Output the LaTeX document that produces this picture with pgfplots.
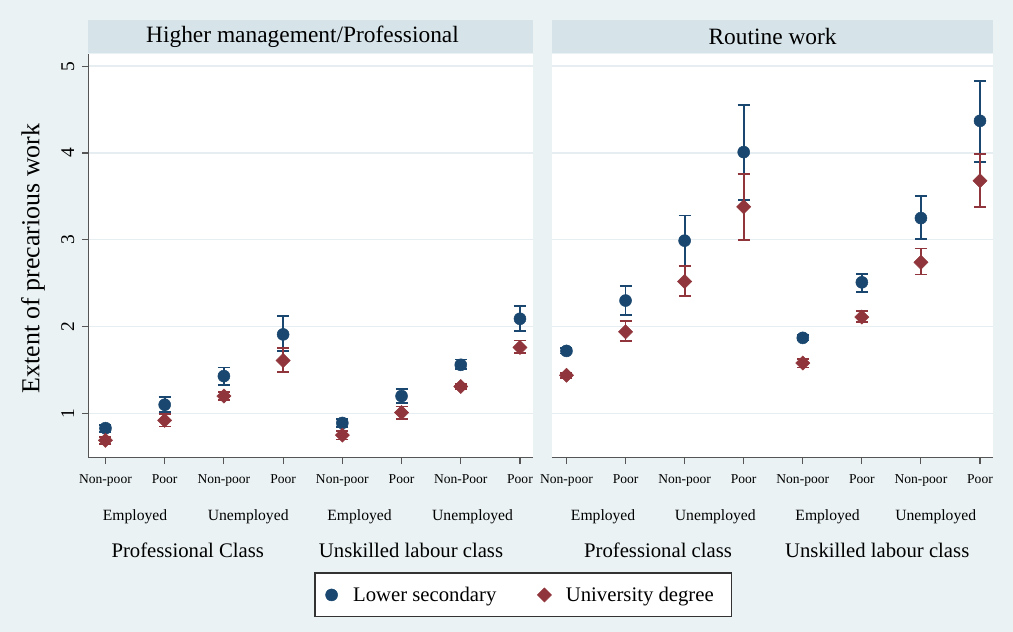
\documentclass[border=0pt]{standalone}
\usepackage{pgfplots}
\usepackage{pgfplotstable}
\pgfplotsset{compat=1.18}
\usepackage{fontspec}
\setmainfont{Liberation Serif}
\definecolor{bg}{HTML}{EAF2F3}
\definecolor{hdr}{HTML}{D6E4EA}
\definecolor{sblue}{HTML}{1A476F}
\definecolor{sred}{HTML}{90353B}
\definecolor{grd}{HTML}{E6EEF1}
\definecolor{axc}{HTML}{555555}

\pgfplotstableread{
x y ep em
0 0.83 0.04 0.04
1 1.10 0.09 0.08
2 1.43 0.10 0.10
3 1.91 0.21 0.19
4 0.89 0.05 0.05
5 1.20 0.08 0.08
6 1.56 0.06 0.05
7 2.09 0.15 0.14
}\LBlue
\pgfplotstableread{
x y ep em
0 0.69 0.04 0.04
1 0.92 0.07 0.07
2 1.20 0.05 0.05
3 1.61 0.14 0.13
4 0.75 0.05 0.05
5 1.01 0.07 0.07
6 1.31 0.03 0.03
7 1.76 0.08 0.06
}\LRed
\pgfplotstableread{
x y ep em
0 1.72 0.03 0.03
1 2.30 0.17 0.17
2 2.99 0.29 0.29
3 4.01 0.54 0.55
4 1.87 0.03 0.03
5 2.51 0.10 0.11
6 3.25 0.25 0.24
7 4.37 0.46 0.47
}\RBlue
\pgfplotstableread{
x y ep em
0 1.44 0.03 0.03
1 1.94 0.12 0.11
2 2.52 0.18 0.17
3 3.38 0.38 0.38
4 1.58 0.05 0.05
5 2.11 0.07 0.06
6 2.74 0.16 0.14
7 3.68 0.31 0.30
}\RRed

\tikzset{
  mid/.style={font=\fontsize{15.7}{17}\selectfont, anchor=center},
  big/.style={font=\fontsize{20.8}{23}\selectfont, anchor=center},
}
\pgfplotsset{
  panel/.style={
    scale only axis, height=403.7bp,
    ymin=0.49, ymax=5.14, ytick={1,2,3,4,5},
    xtick={0,...,7},
    axis background/.style={fill=white},
    ymajorgrids, grid style={grd, line width=1.3bp},
    axis x line*=bottom, axis y line*=left,
    axis line style={axc, line width=1.2bp, -},
    tick align=outside, major tick length=6.5bp,
    tick style={axc, line width=1.1bp},
    xticklabel style={font=\fontsize{13.6}{15}\selectfont, anchor=base, yshift=-19bp},
    yticklabel style={font=\fontsize{19.5}{21}\selectfont, rotate=90, anchor=center, yshift=14bp},
    /pgf/number format/assume math mode=true,
    clip=false,
    legend image code/.code={\path[draw=none,fill=none] (-6.6bp,0bp) -- (19.5bp,0bp); \draw[##1,only marks] plot coordinates {(0bp,0bp)};},
  },
  bluep/.style={only marks, mark=*, mark size=6bp, color=sblue, line width=1.8bp,
    mark options={line width=0.5bp},
    error bars/.cd, y dir=both, y explicit,
    error bar style={sblue, line width=1.8bp},
    error mark options={sblue, mark size=6bp, line width=1.8bp, rotate=90}},
  redp/.style={only marks, mark=square*, mark size=5bp, mark options={rotate=45, line width=0.5bp}, color=sred, line width=1.8bp,
    error bars/.cd, y dir=both, y explicit,
    error bar style={sred, line width=1.8bp},
    error mark options={sred, mark size=6bp, line width=1.8bp, rotate=90}},
}

\begin{document}
\begin{tikzpicture}
\fill[bg] (0bp,0bp) rectangle (1013bp,632bp);
\fill[hdr] (88.3bp,579.3bp) rectangle (533bp,612bp);
\fill[hdr] (551.7bp,579.3bp) rectangle (993bp,612bp);
\node[font=\fontsize{23.5}{26}\selectfont] at (302.5bp,595.6bp) {Higher management/Professional};
\node[font=\fontsize{23.5}{26}\selectfont] at (772.6bp,595.6bp) {Routine work};

\begin{axis}[panel, at={(88.3bp,174.3bp)}, anchor=south west,
  width=444.7bp, xmin=-0.29, xmax=7.22,
  xticklabels={Non-poor,Poor,Non-poor,Poor,Non-poor,Poor,Non-Poor,Poor},
  ylabel={Extent of precarious work},
  every axis y label/.style={at={(axis description cs:-0.1244,0.4934)}, rotate=90, anchor=center, font=\fontsize{26}{28}\selectfont},
  legend style={at={(axis description cs:0.9784,-0.340)}, anchor=center, draw=black!80, line width=1.2bp, fill=white,
    font=\fontsize{20.8}{23}\selectfont, legend columns=2, inner xsep=10bp, inner ysep=12bp,
    /tikz/every even column/.append style={column sep=39bp}},
]
\addplot[bluep] table[x=x, y=y, y error plus=ep, y error minus=em] {\LBlue};
\addlegendentry{Lower secondary}
\addplot[redp] table[x=x, y=y, y error plus=ep, y error minus=em] {\LRed};
\addlegendentry{University degree\hspace*{6bp}}
\node[mid] at (axis cs:0.50,0.49) [yshift=-59bp] {Employed};
\node[mid] at (axis cs:2.41,0.49) [yshift=-59bp] {Unemployed};
\node[mid] at (axis cs:4.29,0.49) [yshift=-59bp] {Employed};
\node[mid] at (axis cs:6.20,0.49) [yshift=-59bp] {Unemployed};
\node[big] at (axis cs:1.39,0.49) [yshift=-92.3bp] {Professional Class};
\node[big] at (axis cs:5.16,0.49) [yshift=-92.3bp] {Unskilled labour class};
\end{axis}

\begin{axis}[panel, at={(551.7bp,174.3bp)}, anchor=south west,
  width=441.3bp, xmin=-0.25, xmax=7.22,
  xticklabels={Non-poor,Poor,Non-poor,Poor,Non-poor,Poor,Non-poor,Poor},
  yticklabels={}, y axis line style={draw=none}, ytick style={draw=none},
]
\addplot[bluep] table[x=x, y=y, y error plus=ep, y error minus=em] {\RBlue};
\addplot[redp] table[x=x, y=y, y error plus=ep, y error minus=em] {\RRed};
\node[mid] at (axis cs:0.62,0.49) [yshift=-59bp] {Employed};
\node[mid] at (axis cs:2.52,0.49) [yshift=-59bp] {Unemployed};
\node[mid] at (axis cs:4.42,0.49) [yshift=-59bp] {Employed};
\node[mid] at (axis cs:6.25,0.49) [yshift=-59bp] {Unemployed};
\node[big] at (axis cs:1.55,0.49) [yshift=-92.3bp] {Professional class};
\node[big] at (axis cs:5.26,0.49) [yshift=-92.3bp] {Unskilled labour class};
\end{axis}
\pgfresetboundingbox
\path (0bp,0bp) rectangle (1013bp,632bp);
\end{tikzpicture}
\end{document}
